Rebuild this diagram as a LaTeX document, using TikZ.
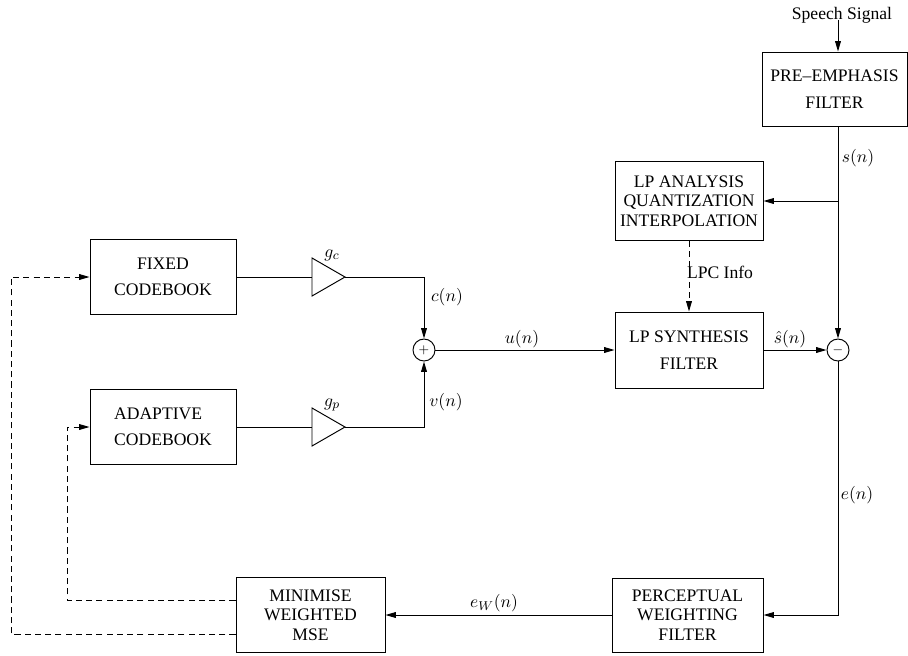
\documentclass[tikz,border=0pt]{standalone}
\usepackage[no-math]{fontspec}
\setmainfont{Liberation Serif}
\usetikzlibrary{arrows.meta,calc}

\begin{document}
\begin{tikzpicture}[x=0.625pt,y=-0.625pt,
  line width=0.6pt,
  >={Triangle[length=6.5pt,width=3.6pt]},
  every node/.style={font=\fontsize{11}{13}\selectfont},
  blk/.style={draw, inner sep=0pt},
  two/.style={font=\fontsize{11}{16.5}\selectfont},
  three/.style={font=\fontsize{11}{12.2}\selectfont},
  junction/.style={draw, circle, minimum size=13.75pt, inner sep=0pt},
  fb/.style={dash pattern=on 3.8pt off 2.6pt},
  lbl/.style={inner sep=0pt},
  amp/.style={line join=miter}
]
\useasboundingbox (0,0) rectangle (908,655);

% ---- blocks ----
\node[blk, two, align=center, minimum width=90.6pt, minimum height=46.25pt]
  (pre) at (834.5,89) {PRE--EMPHASIS\\FILTER};
\node[blk, three, align=center, minimum width=92.5pt, minimum height=49.4pt]
  (lpa) at (689,201) {LP ANALYSIS\\QUANTIZATION\\INTERPOLATION};
\node[blk, two, align=center, minimum width=92.5pt, minimum height=47.5pt]
  (lps) at (689,350) {LP SYNTHESIS\\FILTER};
\node[blk, two, align=center, minimum width=91.25pt, minimum height=46.9pt]
  (fix) at (163,277) {FIXED\\CODEBOOK};
\node[blk, two, align=left, minimum width=91.25pt, minimum height=46.9pt]
  (adp) at (163,427) {ADAPTIVE\\CODEBOOK};
\node[blk, three, align=center, minimum width=93.1pt, minimum height=46.9pt]
  (mse) at (310.5,615) {MINIMISE\\WEIGHTED\\MSE};
\node[blk, three, align=center, minimum width=94.4pt, minimum height=46.25pt]
  (per) at (687.5,615) {PERCEPTUAL\\WEIGHTING\\FILTER};

% ---- summing junctions ----
\node[junction] (sum) at (424,350) {$\scriptstyle +$};
\node[junction] (dif) at (838,350) {$\scriptstyle -$};

% ---- gain stages ----
\coordinate (gcin) at (312,277);
\coordinate (gcout) at (345,277);
\coordinate (gpin) at (312,427);
\coordinate (gpout) at (345,427);
\draw[amp] ($(gcin)+(0,-19)$) -- (gcout) -- ($(gcin)+(0,19)$) -- cycle;
\draw[amp] ($(gpin)+(0,-19)$) -- (gpout) -- ($(gpin)+(0,19)$) -- cycle;
\node[lbl] (gc) at (332,255) {$g_c$};
\node[lbl] (gp) at (332,405) {$g_p$};

% ---- input ----
\node[lbl] (speech) at (842,15) {Speech Signal};
\coordinate (sx) at (838,0);
\coordinate (split) at (838,201);
\coordinate (ecorner) at (838,615);
\draw[->] (speech.south -| sx) ++(0,-3) -- (pre.north -| sx);

% ---- signal path ----
\draw[->] (pre.south -| sx) -- (dif.north);
\draw[->] (split) -- (lpa.east);
\draw[->, fb] (lpa.south) -- (lps.north);
\draw[->] (lps.east) -- (dif.west);
\draw[->] (dif.south) -- (ecorner) -- (per.east);
\draw[->] (per.west) -- (mse.east);

\draw (fix.east) -- (gcin);
\draw (adp.east) -- (gpin);
\draw[->] (gcout) -| (sum.north);
\draw[->] (gpout) -| (sum.south);
\draw[->] (sum.east) -- (lps.west);

% ---- feedback from the error minimisation ----
\coordinate (in1) at (67,600);
\coordinate (out1) at (11,634);
\draw[->, fb] (mse.west |- in1) -- (in1) |- (adp.west);
\draw[->, fb] (mse.west |- out1) -- (out1) |- (fix.west);

% ---- signal labels ----
\node[lbl] (ls) at (858,158) {$s(n)$};
\node[lbl] (llpc) at (720,272) {LPC Info};
\node[lbl] (lsh) at (790,339) {$\hat{s}(n)$};
\node[lbl] (lu) at (522,339) {$u(n)$};
\node[lbl] (lc) at (447,297) {$c(n)$};
\node[lbl] (lv) at (446,402) {$v(n)$};
\node[lbl] (le) at (857,495) {$e(n)$};
\node[lbl] (lew) at (494,603) {$e_W(n)$};
\end{tikzpicture}
\end{document}
